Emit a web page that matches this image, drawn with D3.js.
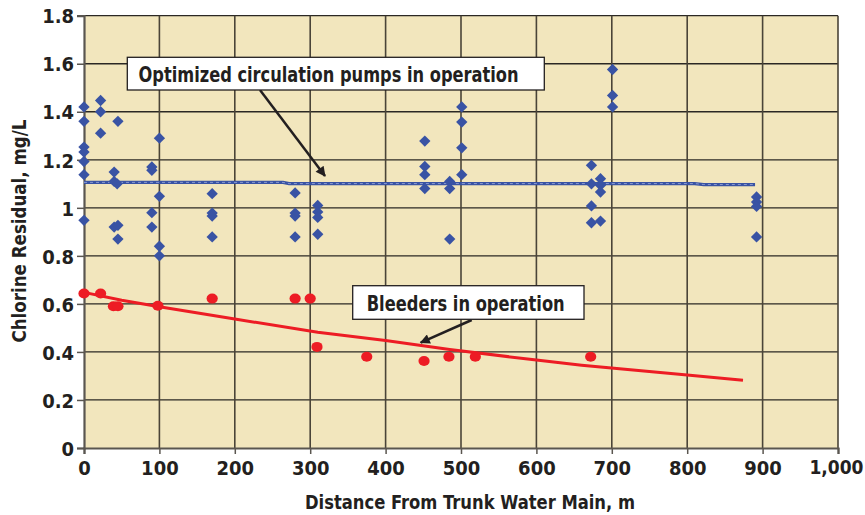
<!DOCTYPE html>
<html lang="en">
<head>
  <meta charset="utf-8">
  <script src="https://d3js.org/d3.v7.min.js"></script>
  <style>
    body { margin: 0; background: #fff; }
    text { font-family: "Liberation Sans Narrow", "DejaVu Sans Condensed", sans-serif; font-weight: bold; fill: #231f20; }
  </style>
</head>
<body>
<script>
  // pumps in operation (blue diamonds)
  var pumpDist = [0, 0, 0, 0, 0, 0, 0, 22, 22, 22, 40, 40, 44, 45, 40, 45, 45,
    90, 90, 90, 90, 100, 100, 100, 100, 170, 170, 170, 170, 280, 280, 280, 280,
    310, 310, 310, 310, 452, 452, 452, 452, 485, 485, 485, 501, 501, 501, 501,
    701, 701, 701, 673, 673, 685, 685, 685, 673, 673, 685, 892, 892, 892, 892]
  var pumpCl = [1.42, 1.36, 1.253, 1.232, 1.193, 1.138, 0.948, 1.447, 1.40, 1.311, 1.149, 1.11, 1.10, 1.36, 0.92, 0.927, 0.87,
    1.17, 1.156, 0.98, 0.92, 1.29, 1.048, 0.84, 0.80, 1.059, 0.978, 0.966, 0.879, 1.062, 0.978, 0.966, 0.879,
    1.01, 0.983, 0.96, 0.89, 1.278, 1.172, 1.138, 1.08, 1.11, 1.08, 0.87, 1.42, 1.357, 1.25, 1.138,
    1.576, 1.468, 1.42, 1.177, 1.10, 1.121, 1.094, 1.066, 1.008, 0.938, 0.945, 1.045, 1.024, 1.006, 0.879]

  // bleeders in operation (red dots)
  var bleedDist = [0, 22, 39, 45, 98, 170, 280, 300, 309, 375, 451, 484, 519, 672]
  var bleedCl = [0.643, 0.643, 0.59, 0.59, 0.592, 0.622, 0.622, 0.622, 0.421, 0.38, 0.362, 0.38, 0.38, 0.38]

  // trend lines
  var pumpTrendDist = [0, 264, 272, 810, 822, 890]
  var pumpTrendCl = [1.106, 1.106, 1.101, 1.101, 1.097, 1.097]
  var bleedTrendDist = [0, 50, 100, 200, 310, 400, 485, 600, 660, 800, 874]
  var bleedTrendCl = [0.648, 0.615, 0.588, 0.537, 0.482, 0.448, 0.41, 0.366, 0.345, 0.304, 0.282]

  var xTicks = [0, 100, 200, 300, 400, 500, 600, 700, 800, 900, 1000]
  var yTicks = [0, 0.2, 0.4, 0.6, 0.8, 1, 1.2, 1.4, 1.6, 1.8]

  var width = 865, height = 515
  var plotLeft = 84, plotRight = 838, plotTop = 15.7, plotBottom = 448

  var svg = d3.select("body").append("svg")
    .attr("width", width)
    .attr("height", height)

  var x = d3.scaleLinear().domain([0, 1000]).range([plotLeft, plotRight])
  var y = d3.scaleLinear().domain([0, 1.8]).range([plotBottom, plotTop])

  // plot background
  svg.append("rect")
    .attr("x", plotLeft).attr("y", plotTop)
    .attr("width", plotRight - plotLeft).attr("height", plotBottom - plotTop)
    .attr("fill", "#f2e6bd")

  // grid
  svg.append("g").selectAll("line")
    .data(yTicks.slice(1))
    .enter().append("line")
    .attr("x1", plotLeft).attr("x2", plotRight)
    .attr("y1", d => y(d)).attr("y2", d => y(d))
    .attr("stroke", "#2b2824").attr("stroke-width", 1.3)

  svg.append("g").selectAll("line")
    .data(xTicks.slice(1))
    .enter().append("line")
    .attr("x1", d => x(d)).attr("x2", d => x(d))
    .attr("y1", plotTop).attr("y2", plotBottom)
    .attr("stroke", "#4a4438").attr("stroke-width", 1.6)

  // axes
  var yAxis = d3.axisLeft(y).tickValues(yTicks).tickSize(7).tickPadding(3)
    .tickFormat(d => d3.format("")(d))
  var gy = svg.append("g").attr("transform", `translate(${plotLeft},0)`).call(yAxis)
  var xAxis = d3.axisBottom(x).tickValues(xTicks).tickSize(6).tickPadding(6)
    .tickFormat(d3.format(","))
  var gx = svg.append("g").attr("transform", `translate(0,${plotBottom})`).call(xAxis)

  ;[gx, gy].forEach(function(g){
    g.select(".domain").attr("stroke", "#5a5650").attr("stroke-width", 2.2)
    g.selectAll(".tick line").attr("stroke", "#5a5650").attr("stroke-width", 1.5)
    g.selectAll(".tick text")
      .attr("font-family", null)
      .style("font-size", "20px")
      .attr("fill", "#231f20")
  })
  gy.selectAll(".tick text").attr("dy", "0.36em")
  gx.selectAll(".tick text").attr("dy", "0.75em")
  // last label sits against the right edge, keep it inside the page
  gx.selectAll(".tick text").filter(d => d === 1000)
    .style("font-size", "19px")
    .attr("text-anchor", "end").attr("x", 25)

  // trend lines
  var line = d3.line().x(d => x(d[0])).y(d => y(d[1]))
  var pumpTrend = pumpTrendDist.map((d, i) => [d, pumpTrendCl[i]])
  var bleedTrend = bleedTrendDist.map((d, i) => [d, bleedTrendCl[i]])

  svg.append("path").datum(bleedTrend)
    .attr("d", line).attr("fill", "none")
    .attr("stroke", "#ed1c24").attr("stroke-width", 3)

  svg.append("path").datum(pumpTrend)
    .attr("d", line).attr("fill", "none")
    .attr("stroke", "#3953a4").attr("stroke-width", 3.2)
  svg.append("path").datum(pumpTrend)
    .attr("d", line).attr("fill", "none")
    .attr("stroke", "#8a9ad0").attr("stroke-width", 1)
    .attr("stroke-dasharray", "3,3")

  // points
  svg.append("g").selectAll("path")
    .data(pumpDist.map((d, i) => [d, pumpCl[i]]))
    .enter().append("path")
    .attr("d", d3.symbol().type(d3.symbolSquare).size(64))
    .attr("transform", d => `translate(${x(d[0])},${y(d[1])}) rotate(45)`)
    .attr("fill", "#3953a4")

  svg.append("g").selectAll("ellipse")
    .data(bleedDist.map((d, i) => [d, bleedCl[i]]))
    .enter().append("ellipse")
    .attr("cx", d => x(d[0])).attr("cy", d => y(d[1]))
    .attr("rx", 5.6).attr("ry", 5)
    .attr("fill", "#ed1c24")

  // annotations
  var defs = svg.append("defs")
  defs.append("marker")
    .attr("id", "head")
    .attr("viewBox", "0 0 10 10")
    .attr("refX", 9).attr("refY", 5)
    .attr("markerWidth", 5).attr("markerHeight", 4)
    .attr("markerUnits", "strokeWidth")
    .attr("orient", "auto")
    .append("path").attr("d", "M0,0L10,5L0,10Z").attr("fill", "#231f20")

  function callout(bx, by, bw, bh, label, tx, ty, tw, a1, a2) {
    svg.append("line")
      .attr("x1", a1[0]).attr("y1", a1[1]).attr("x2", a2[0]).attr("y2", a2[1])
      .attr("stroke", "#231f20").attr("stroke-width", 2.5)
      .attr("marker-end", "url(#head)")
    svg.append("rect")
      .attr("x", bx).attr("y", by).attr("width", bw).attr("height", bh)
      .attr("fill", "#fff").attr("stroke", "#231f20").attr("stroke-width", 1.3)
    svg.append("text")
      .attr("x", tx).attr("y", ty)
      .attr("textLength", tw).attr("lengthAdjust", "spacingAndGlyphs")
      .style("font-size", "21px")
      .text(label)
  }

  callout(127.3, 57.3, 417, 32.7, "Optimized circulation pumps in operation", 138.5, 81.5, 380,
    [260, 90], [325, 176])
  callout(352.7, 285.7, 231.3, 33.6, "Bleeders in operation", 366.7, 310.5, 198,
    [471.7, 320], [420.7, 342.7])

  // axis titles
  svg.append("text")
    .attr("x", 470).attr("y", 509)
    .attr("text-anchor", "middle")
    .attr("textLength", 330).attr("lengthAdjust", "spacingAndGlyphs")
    .style("font-size", "20px")
    .text("Distance From Trunk Water Main, m")

  svg.append("text")
    .attr("transform", "translate(26,231) rotate(-90)")
    .attr("text-anchor", "middle")
    .attr("textLength", 223).attr("lengthAdjust", "spacingAndGlyphs")
    .style("font-size", "20px")
    .text("Chlorine Residual, mg/L")
</script>
</body>
</html>
